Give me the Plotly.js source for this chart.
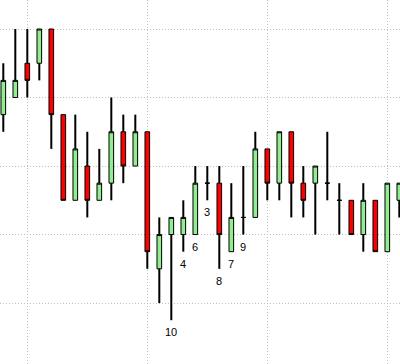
<!DOCTYPE html>
<html>
<head>
<meta charset="utf-8">
<script src="https://cdn.plot.ly/plotly-3.0.1.min.js"></script>
<style>
  html, body { margin: 0; padding: 0; background: #fff; }
  #chart { width: 400px; height: 364px; }
</style>
</head>
<body>
<div id="chart"></div>
<script>
// Session numbers and OHLC prices
const sessions = [1,2,3,4,5,6,7,8,9,10,11,12,13,14,15,16,17,18,19,20,21,22,23,24,25,26,27,28,29,30,31,32,33,34];
const openP  = [11,12,14,14,16,11,6,8,6,7,10,8,10,2,4,4,4,7,7,3,5,5,9,7,10,7,7,7,6,6,4,6,3,6];
const highP  = [14,16,16,16,16,11,11,10,9,12,11,11,10,5,5,6,8,8,8,7,8,10,9,10,10,8,8,10,7,6,7,6,7,7];
const lowP   = [10,12,12,13,9,6,6,5,6,6,7,8,2,0,-1,3,4,6,2,3,4,5,6,6,5,5,4,6,4,4,3,3,3,5];
const closeP = [13,13,13,16,11,6,9,6,7,10,8,10,3,4,5,5,7,7,4,5,5,9,7,10,7,6,8,7,6,4,6,3,7,7];

// Numbered marks under selected candles
const markSessions = [15,16,17,18,19,20,21];
const markLabels   = ['10','4','6','3','8','7','9'];

// Wicks drawn as thick segments above and below each body
const wx = [], wy = [];
sessions.forEach((s, i) => {
  const top = Math.max(openP[i], closeP[i]);
  const bot = Math.min(openP[i], closeP[i]);
  if (highP[i] > top) { wx.push(s, s, null); wy.push(top, highP[i], null); }
  if (lowP[i] < bot)  { wx.push(s, s, null); wy.push(lowP[i], bot, null); }
});

const wicks = {
  type: 'scatter', mode: 'lines', x: wx, y: wy,
  line: { color: '#000', width: 2 }, hoverinfo: 'skip', showlegend: false
};

const bodies = {
  type: 'candlestick', x: sessions,
  open: openP, high: openP.map((o, i) => Math.max(o, closeP[i])),
  low: openP.map((o, i) => Math.min(o, closeP[i])), close: closeP,
  increasing: { fillcolor: '#90EE90', line: { color: '#000', width: 1 } },
  decreasing: { fillcolor: '#FF0000', line: { color: '#000', width: 1 } },
  whiskerwidth: 0, showlegend: false
};

const annotations = markSessions.map((s, k) => {
  const i = sessions.indexOf(s);
  return {
    x: s, y: lowP[i], xref: 'x', yref: 'y', text: markLabels[k],
    showarrow: false, yanchor: 'middle', yshift: -12,
    font: { family: 'Liberation Sans, Arial, sans-serif', size: 11, color: '#000' }
  };
});

const grid = { showgrid: true, gridcolor: '#bcc0c8', griddash: '1px,2px', gridwidth: 1 };

const layout = {
  width: 400, height: 364,
  margin: { l: 0, r: 0, t: 0, b: 0 },
  paper_bgcolor: '#fff', plot_bgcolor: '#fff',
  showlegend: false,
  boxgap: 0.45,
  xaxis: Object.assign({
    range: [0.725, 34.058], showticklabels: false, zeroline: false,
    showline: false, ticks: '', rangeslider: { visible: false },
    tick0: 3, dtick: 10
  }, grid),
  yaxis: Object.assign({
    range: [-3.556, 17.693], showticklabels: false, zeroline: false,
    showline: false, ticks: '',
    tick0: 0, dtick: 4
  }, grid),
  annotations: annotations
};

Plotly.newPlot('chart', [bodies, wicks], layout, { staticPlot: true, displayModeBar: false });
</script>
</body>
</html>
